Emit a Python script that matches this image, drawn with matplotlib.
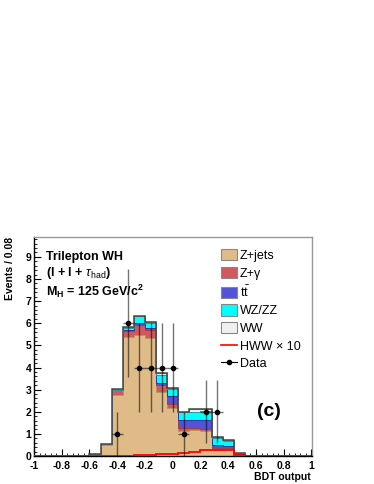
import matplotlib
matplotlib.use("Agg")
import matplotlib.pyplot as plt
import numpy as np
from matplotlib.patches import Patch
from matplotlib.lines import Line2D

plt.rcParams["font.family"] = ["Liberation Sans", "DejaVu Sans"]
plt.rcParams["mathtext.fontset"] = "custom"
plt.rcParams["mathtext.rm"] = "Liberation Sans"
plt.rcParams["mathtext.it"] = "Liberation Sans:italic"
plt.rcParams["mathtext.bf"] = "Liberation Sans:bold"

# 25 bins of width 0.08 on BDT output [-1, 1]
edges = np.linspace(-1, 1, 26)
centers = 0.5 * (edges[:-1] + edges[1:])

# per-bin contributions (not cumulative), bins 0..24
z_jets = [0, 0, 0, 0, 0, 0.05, 0.50, 2.78, 5.40, 5.47, 5.32, 2.91, 2.16,
          1.15, 1.18, 1.13, 0.27, 0.32, 0.05, 0, 0, 0, 0, 0, 0]
z_gamma = [0, 0, 0, 0, 0, 0, 0.02, 0.20, 0.26, 0.46, 0.38, 0.30, 0.18,
           0.13, 0.10, 0.09, 0.08, 0.06, 0.02, 0, 0, 0, 0, 0, 0]
ttbar = [0, 0, 0, 0, 0, 0, 0, 0.01, 0.04, 0.07, 0.08, 0.11, 0.39,
         0.37, 0.37, 0.41, 0.15, 0.07, 0.02, 0, 0, 0, 0, 0, 0]
wz_zz = [0, 0, 0, 0, 0, 0.01, 0.01, 0.01, 0.08, 0.32, 0.22, 0.35, 0.30,
         0.32, 0.35, 0.42, 0.30, 0.24, 0.05, 0, 0, 0, 0, 0, 0]
ww = [0, 0, 0, 0, 0, 0.01, 0.02, 0.04, 0.05, 0.03, 0.08, 0.07, 0.05,
      0.03, 0.12, 0.06, 0.04, 0.05, 0.01, 0, 0, 0, 0, 0, 0]
hww_x10 = [0, 0, 0, 0, 0, 0, 0, 0.01, 0.02, 0.03, 0.05, 0.07, 0.10,
           0.15, 0.20, 0.26, 0.28, 0.25, 0.06, 0, 0, 0, 0, 0, 0]
data = [0, 0, 0, 0, 0, 0, 0, 1, 6, 4, 4, 4, 4,
        1, 0, 2, 2, 0, 0, 0, 0, 0, 0, 0, 0]

components = [
    ("Z+jets", z_jets, "#DFBB88", "#B89368"),
    ("Z+\u03b3", z_gamma, "#D0595D", "#A04045"),
    ("t$\\bar{\\rm t}$", ttbar, "#5353DA", "#3535A8"),
    ("WZ/ZZ", wz_zz, "#00FFFF", "#20A0A0"),
    ("WW", ww, "#F0F0F0", "#888888"),
]

fig = plt.figure(figsize=(3.74, 4.84), dpi=100)
ax = fig.add_axes([34 / 374, 28 / 484, 277.5 / 374, 219 / 484])

base = np.zeros(len(centers))
for name, vals, fc, ec in components:
    top = base + np.array(vals)
    ax.stairs(top, edges, baseline=base, fill=True, color=fc, zorder=2)
    ax.stairs(top, edges, color=ec, linewidth=0.7, zorder=3)
    base = top
# outline of the total stack
ax.stairs(base, edges, color="#444444", linewidth=1.1, zorder=4)

ax.stairs(hww_x10, edges, color="red", linewidth=1.3, zorder=5)

d = np.array(data, dtype=float)
m = d > 0
ax.errorbar(centers[m], d[m], xerr=0.04, yerr=np.sqrt(d[m]), fmt="o",
            color="black", markersize=3, elinewidth=1.0, ecolor=(0, 0, 0, 0.55),
            capsize=0, zorder=6)

ax.set_xlim(-1, 1)
ax.set_ylim(0, 9.9)
ax.set_xticks(np.arange(-1, 1.01, 0.2))
ax.set_xticklabels(["-1", "-0.8", "-0.6", "-0.4", "-0.2", "0", "0.2", "0.4",
                    "0.6", "0.8", "1"])
ax.set_xticks(np.arange(-1, 1.001, 0.04), minor=True)
ax.set_yticks(range(10))
ax.set_yticks(np.arange(0, 9.9, 0.2), minor=True)
ax.tick_params(which="both", direction="in", top=False, right=False,
               labelsize=7.5)
ax.tick_params(axis="x", which="major", pad=3.5)
ax.tick_params(axis="y", which="major", pad=2)
ax.tick_params(which="major", length=5, width=0.8)
ax.tick_params(which="minor", length=2.5, width=0.6)
for lab in ax.get_xticklabels() + ax.get_yticklabels():
    lab.set_fontweight("bold")
for s in ("top", "right"):
    ax.spines[s].set_color("#999999")
    ax.spines[s].set_linewidth(1.0)
for s in ("left", "bottom"):
    ax.spines[s].set_linewidth(1.0)

fig.text(10 / 374, 1 - 237 / 484, "Events / 0.08", rotation=90, ha="center",
         va="top", fontsize=7.5, fontweight="bold")
fig.text(311 / 374, 1 - 477 / 484, "BDT output", ha="right", va="center",
         fontsize=7.5, fontweight="bold")

fig.text(46 / 374, 1 - 257 / 484, "Trilepton WH", ha="left", va="center",
         fontsize=9, fontweight="bold")
fig.text(46 / 374, 1 - 273 / 484, r"(l + l + $\tau_{\rm had}$)", ha="left",
         va="center", fontsize=9, fontweight="bold")
fig.text(46 / 374, 1 - 291 / 484, r"M$_{\mathbf{H}}$ = 125 GeV/c$^{\mathbf{2}}$",
         ha="left", va="center", fontsize=9, fontweight="bold")
fig.text(269 / 374, 1 - 412 / 484, "(c)", ha="center", va="center",
         fontsize=14, fontweight="bold")

handles = [Patch(facecolor=fc, edgecolor="#888888", linewidth=0.8)
           for _, _, fc, _ in components]
handles.append(Line2D([], [], color="red", linewidth=1.2))
handles.append(Line2D([], [], color="black", linewidth=0.8, marker="o",
                      markersize=3))
labels = [c[0] for c in components] + ["HWW \u00d7 10", "Data"]
ax.legend(handles, labels, loc="upper left",
          bbox_to_anchor=(221 / 374, 1 - 249 / 484),
          bbox_transform=fig.transFigure, frameon=False, fontsize=9,
          handlelength=1.3, handleheight=1.0, handletextpad=0.2,
          labelspacing=0.38, borderpad=0, borderaxespad=0)

fig.savefig("out.png", dpi=100)
